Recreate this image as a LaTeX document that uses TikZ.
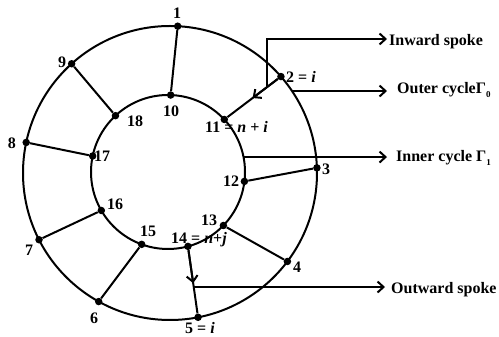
\documentclass[tikz,border=0pt]{standalone}
\usepackage{fontspec}
\setmainfont{Liberation Serif}
\usetikzlibrary{calc,arrows.meta}
\newcommand{\gsub}[1]{Γ\raisebox{-0.25em}{\fontsize{9}{9}\selectfont #1}}
\begin{document}
\begin{tikzpicture}[x=1pt,y=1pt,
  dot/.style={circle,fill=black,inner sep=0pt,minimum size=7.5pt},
  lab/.style={inner sep=0pt,font=\fontsize{16}{18}\selectfont\bfseries},
  edge/.style={line width=2pt},
  arr/.style={line width=2pt,-{Straight Barb[length=6pt,width=11pt,line width=2pt]}}]
\useasboundingbox (0,0) rectangle (499,337);
\coordinate (O) at (170,164);
\coordinate (I) at (168,165);
\draw[edge] (O) circle[radius=147];
\draw[edge] (I) circle[radius=77];
% outer cycle vertices
\node[dot] (n1) at ($(O)+(87:147)$) {};
\node[dot] (n2) at ($(O)+(41:147)$) {};
\node[dot] (n3) at ($(O)+(2:147)$) {};
\node[dot] (n4) at ($(O)+(-37:147)$) {};
\node[dot] (n5) at ($(O)+(-79:147)$) {};
\node[dot] (n6) at ($(O)+(-119:147)$) {};
\node[dot] (n7) at ($(O)+(-153:147)$) {};
\node[dot] (n8) at ($(O)+(168:147)$) {};
\node[dot] (n9) at ($(O)+(132:147)$) {};
% inner cycle vertices
\node[dot] (n10) at ($(I)+(88:77)$) {};
\node[dot] (n11) at ($(I)+(43:77)$) {};
\node[dot] (n12) at ($(I)+(-7:77)$) {};
\node[dot] (n13) at ($(I)+(-44:77)$) {};
\node[dot] (n14) at ($(I)+(-75:77)$) {};
\node[dot] (n15) at ($(I)+(-110:77)$) {};
\node[dot] (n16) at ($(I)+(-150:77)$) {};
\node[dot] (n17) at ($(I)+(168:77)$) {};
\node[dot] (n18) at ($(I)+(133:77)$) {};
% spokes
\draw[edge] (n1) -- (n10);
\draw[edge] (n2) -- (n11);
\draw[edge] (n3) -- (n12);
\draw[edge] (n4) -- (n13);
\draw[edge] (n5) -- (n14);
\draw[edge] (n6) -- (n15);
\draw[edge] (n7) -- (n16);
\draw[edge] (n8) -- (n17);
\draw[edge] (n9) -- (n18);
% direction arrows on spokes
\coordinate (m211) at ($(n2)!0.5!(n11)$);
\draw[arr] (n2) -- (m211);
\coordinate (m145) at ($(n14)!0.52!(n5)$);
\draw[arr] (n14) -- (m145);
% vertex labels
\node[lab] (l1) at (177,324) {1};
\node[lab,anchor=west] (l2) at (286,260) {2 = \textit{i}};
\node[lab] (l3) at (326,168) {3};
\node[lab] (l4) at (297,70) {4};
\node[lab] (l5) at (200,9) {5 = \textit{i}};
\node[lab] (l6) at (94,19) {6};
\node[lab] (l7) at (29,87) {7};
\node[lab] (l8) at (12,194) {8};
\node[lab] (l9) at (62,275) {9};
\node[lab] (l10) at (171,226) {10};
\node[lab,anchor=west] (l11) at (205,210) {11 = \textit{n} + \textit{i}};
\node[lab] (l12) at (231,156) {12};
\node[lab] (l13) at (209,117) {13};
\node[lab,anchor=west] (l14) at (171,97) {14 = \textit{n}+\textit{j}};
\node[lab] (l15) at (148,106) {15};
\node[lab] (l16) at (115,133) {16};
\node[lab] (l17) at (102,181) {17};
\node[lab] (l18) at (135,216) {18};
% callout texts
\node[lab,anchor=base west] (tIn) at (389,291) {Inward spoke};
\node[lab,anchor=base west] (tOut) at (397,243) {Outer cycle\gsub{0}};
\node[lab,anchor=base west] (tInner) at (396,175) {Inner cycle \gsub{1}};
\node[lab,anchor=base west] (tOutw) at (391,43) {Outward spoke};
% callout connectors
\coordinate (s2) at ($(n2)!0.245!(n11)$);
\coordinate (eIn) at (387,298);
\draw[arr] (s2) |- (eIn);
\coordinate (cO) at ($(O)+(33.9:147)$);
\coordinate (eOut) at (387,246);
\draw[arr] (cO) -- (cO -| eOut);
\coordinate (cI) at ($(I)+(11.2:77)$);
\coordinate (eInner) at (387,180);
\draw[arr] (cI) -- (cI -| eInner);
\coordinate (s14) at ($(n14)!0.573!(n5)$);
\coordinate (eOutw) at (385,50);
\draw[arr] (s14) -- (s14 -| eOutw);
\end{tikzpicture}
\end{document}
